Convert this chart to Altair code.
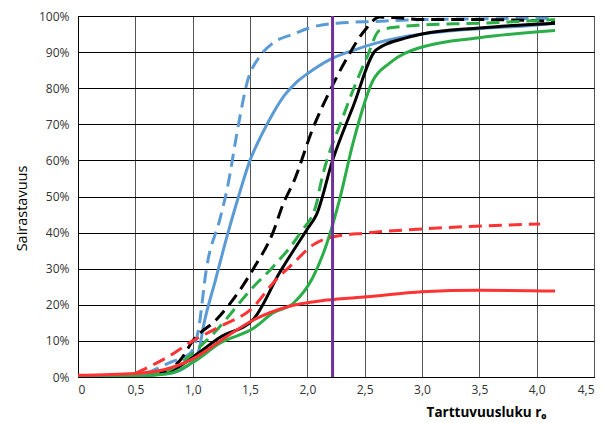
import altair as alt
import pandas as pd

# Series data (x = r0, y = share, 0..1)
blue_solid_x = [0, 0.5, 0.8, 0.95, 1.05, 1.1, 1.2, 1.3, 1.4, 1.5, 1.6, 1.7, 1.8, 1.9, 2.0, 2.2, 2.4, 2.6, 2.8, 3.0, 3.5, 4.0, 4.16]
blue_solid_y = [0, 0.004, 0.01, 0.03, 0.07, 0.15, 0.27, 0.39, 0.50, 0.60, 0.67, 0.73, 0.78, 0.815, 0.84, 0.88, 0.905, 0.925, 0.94, 0.95, 0.965, 0.975, 0.98]

blue_dash_x = [0.6, 0.8, 0.98, 1.05, 1.12, 1.24, 1.3, 1.4, 1.47, 1.59, 1.7, 1.88, 2.05, 2.26, 2.6, 3.0, 3.5, 4.16]
blue_dash_y = [0.01, 0.04, 0.066, 0.13, 0.30, 0.44, 0.52, 0.70, 0.81, 0.89, 0.925, 0.95, 0.97, 0.98, 0.985, 0.99, 0.992, 0.994]

black_solid_x = [0.6, 0.8, 1.0, 1.24, 1.53, 1.76, 2.0, 2.08, 2.22, 2.4, 2.6, 2.87, 3.0, 3.5, 4.16]
black_solid_y = [0.005, 0.015, 0.055, 0.11, 0.16, 0.29, 0.41, 0.45, 0.60, 0.75, 0.906, 0.94, 0.95, 0.967, 0.98]

black_dash_x = [0.7, 0.9, 1.0, 1.21, 1.41, 1.53, 1.7, 1.79, 1.88, 2.05, 2.2, 2.34, 2.5, 2.63, 2.8, 3.0, 3.5, 4.16]
black_dash_y = [0.01, 0.05, 0.10, 0.16, 0.24, 0.30, 0.40, 0.48, 0.54, 0.69, 0.795, 0.88, 0.96, 0.997, 0.995, 0.99, 0.99, 0.985]

green_solid_x = [0, 0.5, 0.8, 1.0, 1.24, 1.53, 1.7, 1.88, 2.05, 2.17, 2.28, 2.4, 2.57, 2.72, 3.0, 3.5, 4.16]
green_solid_y = [0, 0.002, 0.01, 0.04, 0.094, 0.135, 0.177, 0.205, 0.277, 0.37, 0.49, 0.65, 0.82, 0.87, 0.914, 0.94, 0.96]

green_dash_x = [0.6, 0.8, 1.0, 1.18, 1.53, 1.7, 1.94, 2.08, 2.11, 2.31, 2.52, 2.63, 2.8, 3.0, 3.5, 4.16]
green_dash_y = [0.005, 0.02, 0.066, 0.12, 0.25, 0.305, 0.40, 0.48, 0.526, 0.72, 0.886, 0.96, 0.97, 0.975, 0.98, 0.99]

red_solid_x = [0, 0.5, 0.75, 1.0, 1.24, 1.53, 1.82, 2.17, 2.52, 3.0, 3.5, 4.16]
red_solid_y = [0.005, 0.01, 0.02, 0.05, 0.10, 0.158, 0.194, 0.213, 0.222, 0.236, 0.24, 0.238]

red_dash_x = [0.5, 0.78, 1.0, 1.24, 1.53, 1.7, 1.88, 2.05, 2.22, 2.52, 3.1, 4.03]
red_dash_y = [0.01, 0.055, 0.10, 0.14, 0.194, 0.26, 0.316, 0.366, 0.388, 0.399, 0.412, 0.424]

threshold_x = [2.22]

x_ticks = [0, 0.5, 1.0, 1.5, 2.0, 2.5, 3.0, 3.5, 4.0, 4.5]
y_ticks = [0, 0.1, 0.2, 0.3, 0.4, 0.5, 0.6, 0.7, 0.8, 0.9, 1.0]

series = [
    ("blue_solid", blue_solid_x, blue_solid_y, "#5B9BD5", False),
    ("blue_dash", blue_dash_x, blue_dash_y, "#5B9BD5", True),
    ("black_solid", black_solid_x, black_solid_y, "#000000", False),
    ("black_dash", black_dash_x, black_dash_y, "#000000", True),
    ("green_solid", green_solid_x, green_solid_y, "#2BAE48", False),
    ("green_dash", green_dash_x, green_dash_y, "#2BAE48", True),
    ("red_solid", red_solid_x, red_solid_y, "#FF3333", False),
    ("red_dash", red_dash_x, red_dash_y, "#FF3333", True),
]

xscale = alt.Scale(domain=[0, 4.5], nice=False, zero=False)
yscale = alt.Scale(domain=[0, 1], nice=False)

xaxis = alt.Axis(
    values=x_ticks,
    tickCount=50,
    labelExpr="datum.value == 0 ? '0' : replace(format(datum.value, '.1f'), '.', ',')",
    labelOverlap=False,
    title="Tarttuvuusluku r₀",
    titleFontWeight="bold",
    titleFontSize=13.5,
    titleColor="#000000",
    titleX=408,
    titleY=39,
    titleAlign="center",
    titleBaseline="alphabetic",
    grid=True,
    gridColor="#555555",
    domainColor="#000000",
    ticks=False,
    labelPadding=7,
    labelFontSize=12,
    labelColor="#333333",
)
yaxis = alt.Axis(
    values=y_ticks,
    tickCount=50,
    format=".0%",
    labelOverlap=False,
    title="Sairastavuus",
    titleFontWeight="normal",
    titleFontSize=14.5,
    titleColor="#000000",
    titleX=-56,
    titleY=192,
    titleAngle=270,
    titleAlign="center",
    titleBaseline="middle",
    grid=True,
    gridColor="#000000",
    domainColor="#000000",
    ticks=False,
    labelPadding=9,
    labelFontSize=12,
    labelColor="#333333",
)

X = alt.X("x:Q", scale=xscale, axis=xaxis)
Y = alt.Y("y:Q", scale=yscale, axis=yaxis)

layers = []
base_df = pd.DataFrame({"x": [0, 4.5], "y": [0, 1]})
layers.append(alt.Chart(base_df).mark_point(opacity=0).encode(x=X, y=Y))

for name, xs, ys, color, dashed in series:
    df = pd.DataFrame({"x": xs, "y": ys})
    kw = dict(color=color, strokeWidth=3, interpolate="monotone", clip=True)
    if dashed:
        kw["strokeDash"] = [13, 7]
    layers.append(alt.Chart(df).mark_line(**kw).encode(x=X, y=Y))

thr_df = pd.DataFrame({"x": threshold_x, "y": [0], "y2": [1]})
layers.append(
    alt.Chart(thr_df).mark_rule(color="#7030A0", strokeWidth=3).encode(
        x=X, y=Y, y2="y2:Q",
    )
)

chart = alt.layer(*layers).properties(
    width=516,
    height=361,
    autosize=alt.AutoSizeParams(type="none"),
    padding={"left": 78, "top": 16, "right": 10, "bottom": 46},
).configure(
    font="Open Sans",
    background="white",
).configure_view(
    stroke="#000000",
    strokeWidth=1,
)

chart.save("out.html", embed_options={"renderer": "svg", "actions": False})
